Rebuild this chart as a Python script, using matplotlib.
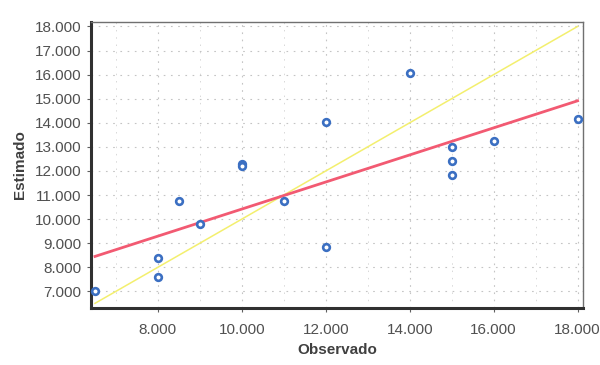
import numpy as np
import matplotlib
matplotlib.use("Agg")
import matplotlib.pyplot as plt
from matplotlib.ticker import FuncFormatter, MultipleLocator

plt.rcParams['font.family'] = ['Liberation Sans', 'DejaVu Sans']

# observed vs estimated values
observado = [6500, 8000, 8000, 8500, 9000, 10000, 10000, 11000,
             12000, 12000, 14000, 15000, 15000, 15000, 16000, 18000]
estimado = [7000, 8400, 7600, 10750, 9800, 12300, 12200, 10750,
            14050, 8850, 16050, 13000, 12400, 11850, 13250, 14150]

x_ticks = [8000, 10000, 12000, 14000, 16000, 18000]
y_ticks = [7000, 8000, 9000, 10000, 11000, 12000, 13000, 14000,
           15000, 16000, 17000, 18000]


def miles(v, pos):
    return '{:,.0f}'.format(v).replace(',', '.')


fig = plt.figure(figsize=(6, 3.65), dpi=100)
ax = fig.add_axes([0.152, 0.157, 0.819, 0.783])

obs = np.array(observado, dtype=float)
est = np.array(estimado, dtype=float)

# identity line (yellow)
lim = np.array([obs.min(), obs.max()])
ax.plot(lim, lim, color='#f3ef6e', lw=1.1, zorder=2)

# regression line (red)
m, b = np.polyfit(obs, est, 1)
ax.plot(lim, m * lim + b, color='#f25a72', lw=2.0, zorder=3)

ax.plot(obs, est, 'o', ms=4.8, mfc='white', mec='#3b6fc2', mew=1.9,
        zorder=4, clip_on=False)

ax.set_xlim(6410, 18120)
ax.set_ylim(6320, 18190)
ax.set_xticks(x_ticks)
ax.set_yticks(y_ticks)
ax.xaxis.set_minor_locator(MultipleLocator(1000))
ax.xaxis.set_major_formatter(FuncFormatter(miles))
ax.yaxis.set_major_formatter(FuncFormatter(miles))

ax.grid(True, which='major', color='#c4c4c4', ls=(0, (1.5, 5)), lw=0.8)
ax.grid(True, which='minor', axis='x', color='#d8d8d8', ls=(0, (1.5, 6)),
        lw=0.7)
ax.set_axisbelow(True)

ax.tick_params(axis='both', labelsize=11, labelcolor='#505050',
               color='#606060', length=3, width=0.8)
ax.tick_params(axis='x', which='minor', length=0)
ax.tick_params(axis='x', pad=8)
ax.tick_params(axis='y', pad=4)

for side in ['left', 'bottom']:
    ax.spines[side].set_color('#303030')
    ax.spines[side].set_linewidth(2.2)
for side in ['top', 'right']:
    ax.spines[side].set_color('#707070')
    ax.spines[side].set_linewidth(1.0)

ax.set_xlabel('Observado', fontsize=11, fontweight='bold', color='#404040',
              labelpad=4)
ax.set_ylabel('Estimado', fontsize=11, fontweight='bold', color='#404040',
              labelpad=6)

fig.savefig('out.png', dpi=100, facecolor='white')
